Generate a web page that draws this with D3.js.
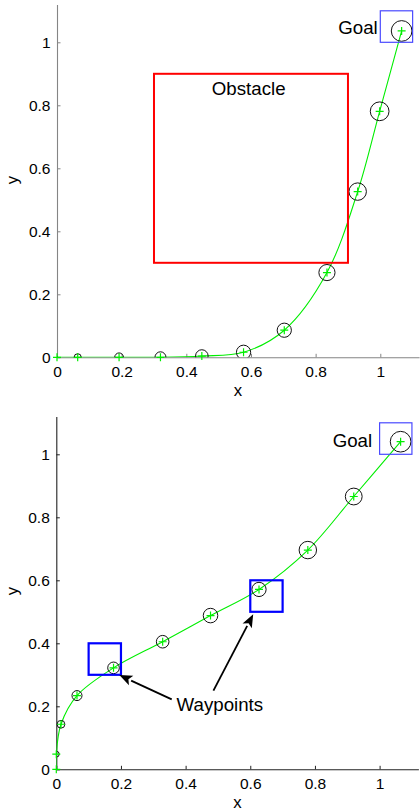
<!DOCTYPE html>
<html><head><meta charset="utf-8">
<script src="https://cdn.jsdelivr.net/npm/d3@7"></script>
<style>
html,body{margin:0;padding:0;background:#fff;}
svg{display:block;font-family:"Liberation Sans",Arial,sans-serif;}
</style></head>
<body>
<svg id="chart" width="420" height="810"></svg>
<script>
// ---- data ----
const xTickValues = [0, 0.2, 0.4, 0.6, 0.8, 1];
const yTickValues = [0, 0.2, 0.4, 0.6, 0.8, 1];
const xTickLabels = ["0", "0.2", "0.4", "0.6", "0.8", "1"];
const yTickLabels = ["0", "0.2", "0.4", "0.6", "0.8", "1"];

// top panel: path around obstacle
const topPathX = [0, 0.064, 0.192, 0.32, 0.448, 0.577, 0.703, 0.835, 0.93, 0.998, 1.066];
const topPathY = [0, 0, 0, 0, 0.004, 0.016, 0.086, 0.269, 0.526, 0.781, 1.036];
const topUncertainty = [0.002, 0.011, 0.0135, 0.017, 0.0195, 0.022, 0.022, 0.025, 0.027, 0.029, 0.032];
const obstacleBounds = [0.3, 0.9, 0.3, 0.9];   // x0, x1, y0, y1
const goalBounds = [1.0, 1.1, 1.0, 1.1];

// bottom panel: path through waypoints
const botPathX = [0, 0, 0.0145, 0.064, 0.177, 0.329, 0.477, 0.627, 0.778, 0.92, 1.065];
const botPathY = [0, 0.048, 0.143, 0.234, 0.322, 0.405, 0.488, 0.571, 0.696, 0.866, 1.04];
const botUncertainty = [0.002, 0.009, 0.012, 0.0155, 0.018, 0.0195, 0.0225, 0.022, 0.027, 0.026, 0.032];
const waypointBoxes = [[0.1, 0.2, 0.3, 0.4], [0.6, 0.7, 0.5, 0.6]];

const domainMax = 1.12;

const svg = d3.select("#chart");
const defs = svg.append("defs");

function drawPanel(cfg) {
  const x = d3.scaleLinear().domain([0, domainMax]).range([cfg.left, cfg.left + 323.3 * domainMax]);
  const y = d3.scaleLinear().domain([0, domainMax]).range([cfg.bottom, cfg.bottom - 315 * domainMax]);
  const g = svg.append("g");

  const clipId = "clip" + cfg.id;
  defs.append("clipPath").attr("id", clipId).append("rect")
    .attr("x", x(0)).attr("y", y(domainMax))
    .attr("width", x(domainMax) - x(0)).attr("height", y(0) - y(domainMax));

  // axes
  const xAxis = d3.axisBottom(x).tickValues(xTickValues)
    .tickFormat((d, i) => xTickLabels[i]).tickSizeInner(-3.5).tickSizeOuter(0).tickPadding(10);
  const yAxis = d3.axisLeft(y).tickValues(yTickValues)
    .tickFormat((d, i) => yTickLabels[i]).tickSizeInner(-3.5).tickSizeOuter(0).tickPadding(10);

  const gx = g.append("g").attr("transform", `translate(0,${y(0)})`).call(xAxis);
  const gy = g.append("g").attr("transform", `translate(${x(0)},0)`).call(yAxis);
  [gx, gy].forEach(a => {
    a.select(".domain").attr("stroke", cfg.axisColor).attr("stroke-width", 1.1);
    a.selectAll(".tick line").attr("stroke", cfg.axisColor).attr("stroke-width", 1);
    a.selectAll(".tick text").attr("fill", "#000").attr("font-size", 15.5)
      .attr("font-family", '"Liberation Sans",Arial,sans-serif');
  });
  gx.selectAll(".tick text").attr("dy", null).attr("y", 19.3).attr("dominant-baseline", null);
  gy.selectAll(".tick text").attr("dy", null).attr("x", -6.5).attr("y", 5.5);

  g.append("text").attr("x", x(0.56)).attr("y", cfg.xLabelY).attr("text-anchor", "middle")
    .attr("font-size", 16.8).text("x");
  g.append("text").attr("transform", `translate(18,${cfg.yLabelY}) rotate(-90)`)
    .attr("text-anchor", "middle").attr("font-size", 16.8).text("y");

  const plot = g.append("g").attr("clip-path", `url(#${clipId})`);

  const pts = cfg.px.map((v, i) => ({ x: v, y: cfg.py[i], r: cfg.pr[i] }));

  // path line
  const line = d3.line().x(d => x(d.x)).y(d => y(d.y)).curve(d3.curveCatmullRom.alpha(0.5));
  plot.append("path").datum(pts).attr("d", line)
    .attr("fill", "none").attr("stroke", "#00ee00").attr("stroke-width", 1.1);

  // uncertainty circles
  plot.selectAll("circle.unc").data(pts).join("circle").attr("class", "unc")
    .attr("cx", d => x(d.x)).attr("cy", d => y(d.y))
    .attr("r", d => x(d.r) - x(0))
    .attr("fill", "none").attr("stroke", "#111").attr("stroke-width", 1);

  // plus markers
  const pm = 4;
  g.selectAll("path.plus" + cfg.id).data(pts).join("path").attr("class", "plus" + cfg.id)
    .attr("d", d => `M${x(d.x) - pm},${y(d.y)}H${x(d.x) + pm}M${x(d.x)},${y(d.y) - pm}V${y(d.y) + pm}`)
    .attr("stroke", "#00ee00").attr("stroke-width", 1.2).attr("fill", "none");

  // goal box
  g.append("rect").attr("x", x(goalBounds[0])).attr("y", y(goalBounds[3]))
    .attr("width", x(goalBounds[1]) - x(goalBounds[0])).attr("height", y(goalBounds[2]) - y(goalBounds[3]))
    .attr("fill", "none").attr("stroke", "#4a4aff").attr("stroke-width", 1.2);
  g.append("text").attr("x", x(cfg.goalTextX)).attr("y", y(cfg.goalTextY))
    .attr("text-anchor", "end").attr("font-size", 18.7).text("Goal");

  return { g, x, y };
}

// ---- top panel ----
const panelA = drawPanel({
  id: "A", left: 57, bottom: 357.3, axisColor: "#858585",
  px: topPathX, py: topPathY, pr: topUncertainty,
  xLabelY: 396, yLabelY: 180, goalTextX: 0.992, goalTextY: 1.026
});
panelA.g.append("rect")
  .attr("x", panelA.x(obstacleBounds[0])).attr("y", panelA.y(obstacleBounds[3]))
  .attr("width", panelA.x(obstacleBounds[1]) - panelA.x(obstacleBounds[0]))
  .attr("height", panelA.y(obstacleBounds[2]) - panelA.y(obstacleBounds[3]))
  .attr("fill", "none").attr("stroke", "#ff0000").attr("stroke-width", 2);
panelA.g.append("text").attr("x", panelA.x(0.593)).attr("y", panelA.y(0.833))
  .attr("text-anchor", "middle").attr("font-size", 18.7).text("Obstacle");

// ---- bottom panel ----
const panelB = drawPanel({
  id: "B", left: 56.3, bottom: 769.3, axisColor: "#222",
  px: botPathX, py: botPathY, pr: botUncertainty,
  xLabelY: 807.5, yLabelY: 591, goalTextX: 0.977, goalTextY: 1.024
});
panelB.g.selectAll("rect.wp").data(waypointBoxes).join("rect").attr("class", "wp")
  .attr("x", d => panelB.x(d[0])).attr("y", d => panelB.y(d[3]))
  .attr("width", d => panelB.x(d[1]) - panelB.x(d[0])).attr("height", d => panelB.y(d[2]) - panelB.y(d[3]))
  .attr("fill", "none").attr("stroke", "#0000ff").attr("stroke-width", 2.2);

const arrows = [
  { from: [0.357, 0.222], to: [0.195, 0.299] },
  { from: [0.486, 0.2495], to: [0.609, 0.492] }
];
arrows.forEach(a => {
  const x1 = panelB.x(a.from[0]), y1 = panelB.y(a.from[1]);
  const x2 = panelB.x(a.to[0]), y2 = panelB.y(a.to[1]);
  const ang = Math.atan2(y2 - y1, x2 - x1);
  const L = 13, W = 5.2;
  const bx = x2 - L * Math.cos(ang), by = y2 - L * Math.sin(ang);
  panelB.g.append("line").attr("x1", x1).attr("y1", y1).attr("x2", bx).attr("y2", by)
    .attr("stroke", "#000").attr("stroke-width", 1.8);
  const p = [[x2, y2],
    [bx + W * Math.sin(ang), by - W * Math.cos(ang)],
    [bx + 3 * Math.cos(ang), by + 3 * Math.sin(ang)],
    [bx - W * Math.sin(ang), by + W * Math.cos(ang)]];
  panelB.g.append("path").attr("d", "M" + p.map(q => q.join(",")).join("L") + "Z").attr("fill", "#000");
});
panelB.g.append("text").attr("x", panelB.x(0.372)).attr("y", panelB.y(0.186))
  .attr("font-size", 18.7).text("Waypoints");
</script>
</body></html>
